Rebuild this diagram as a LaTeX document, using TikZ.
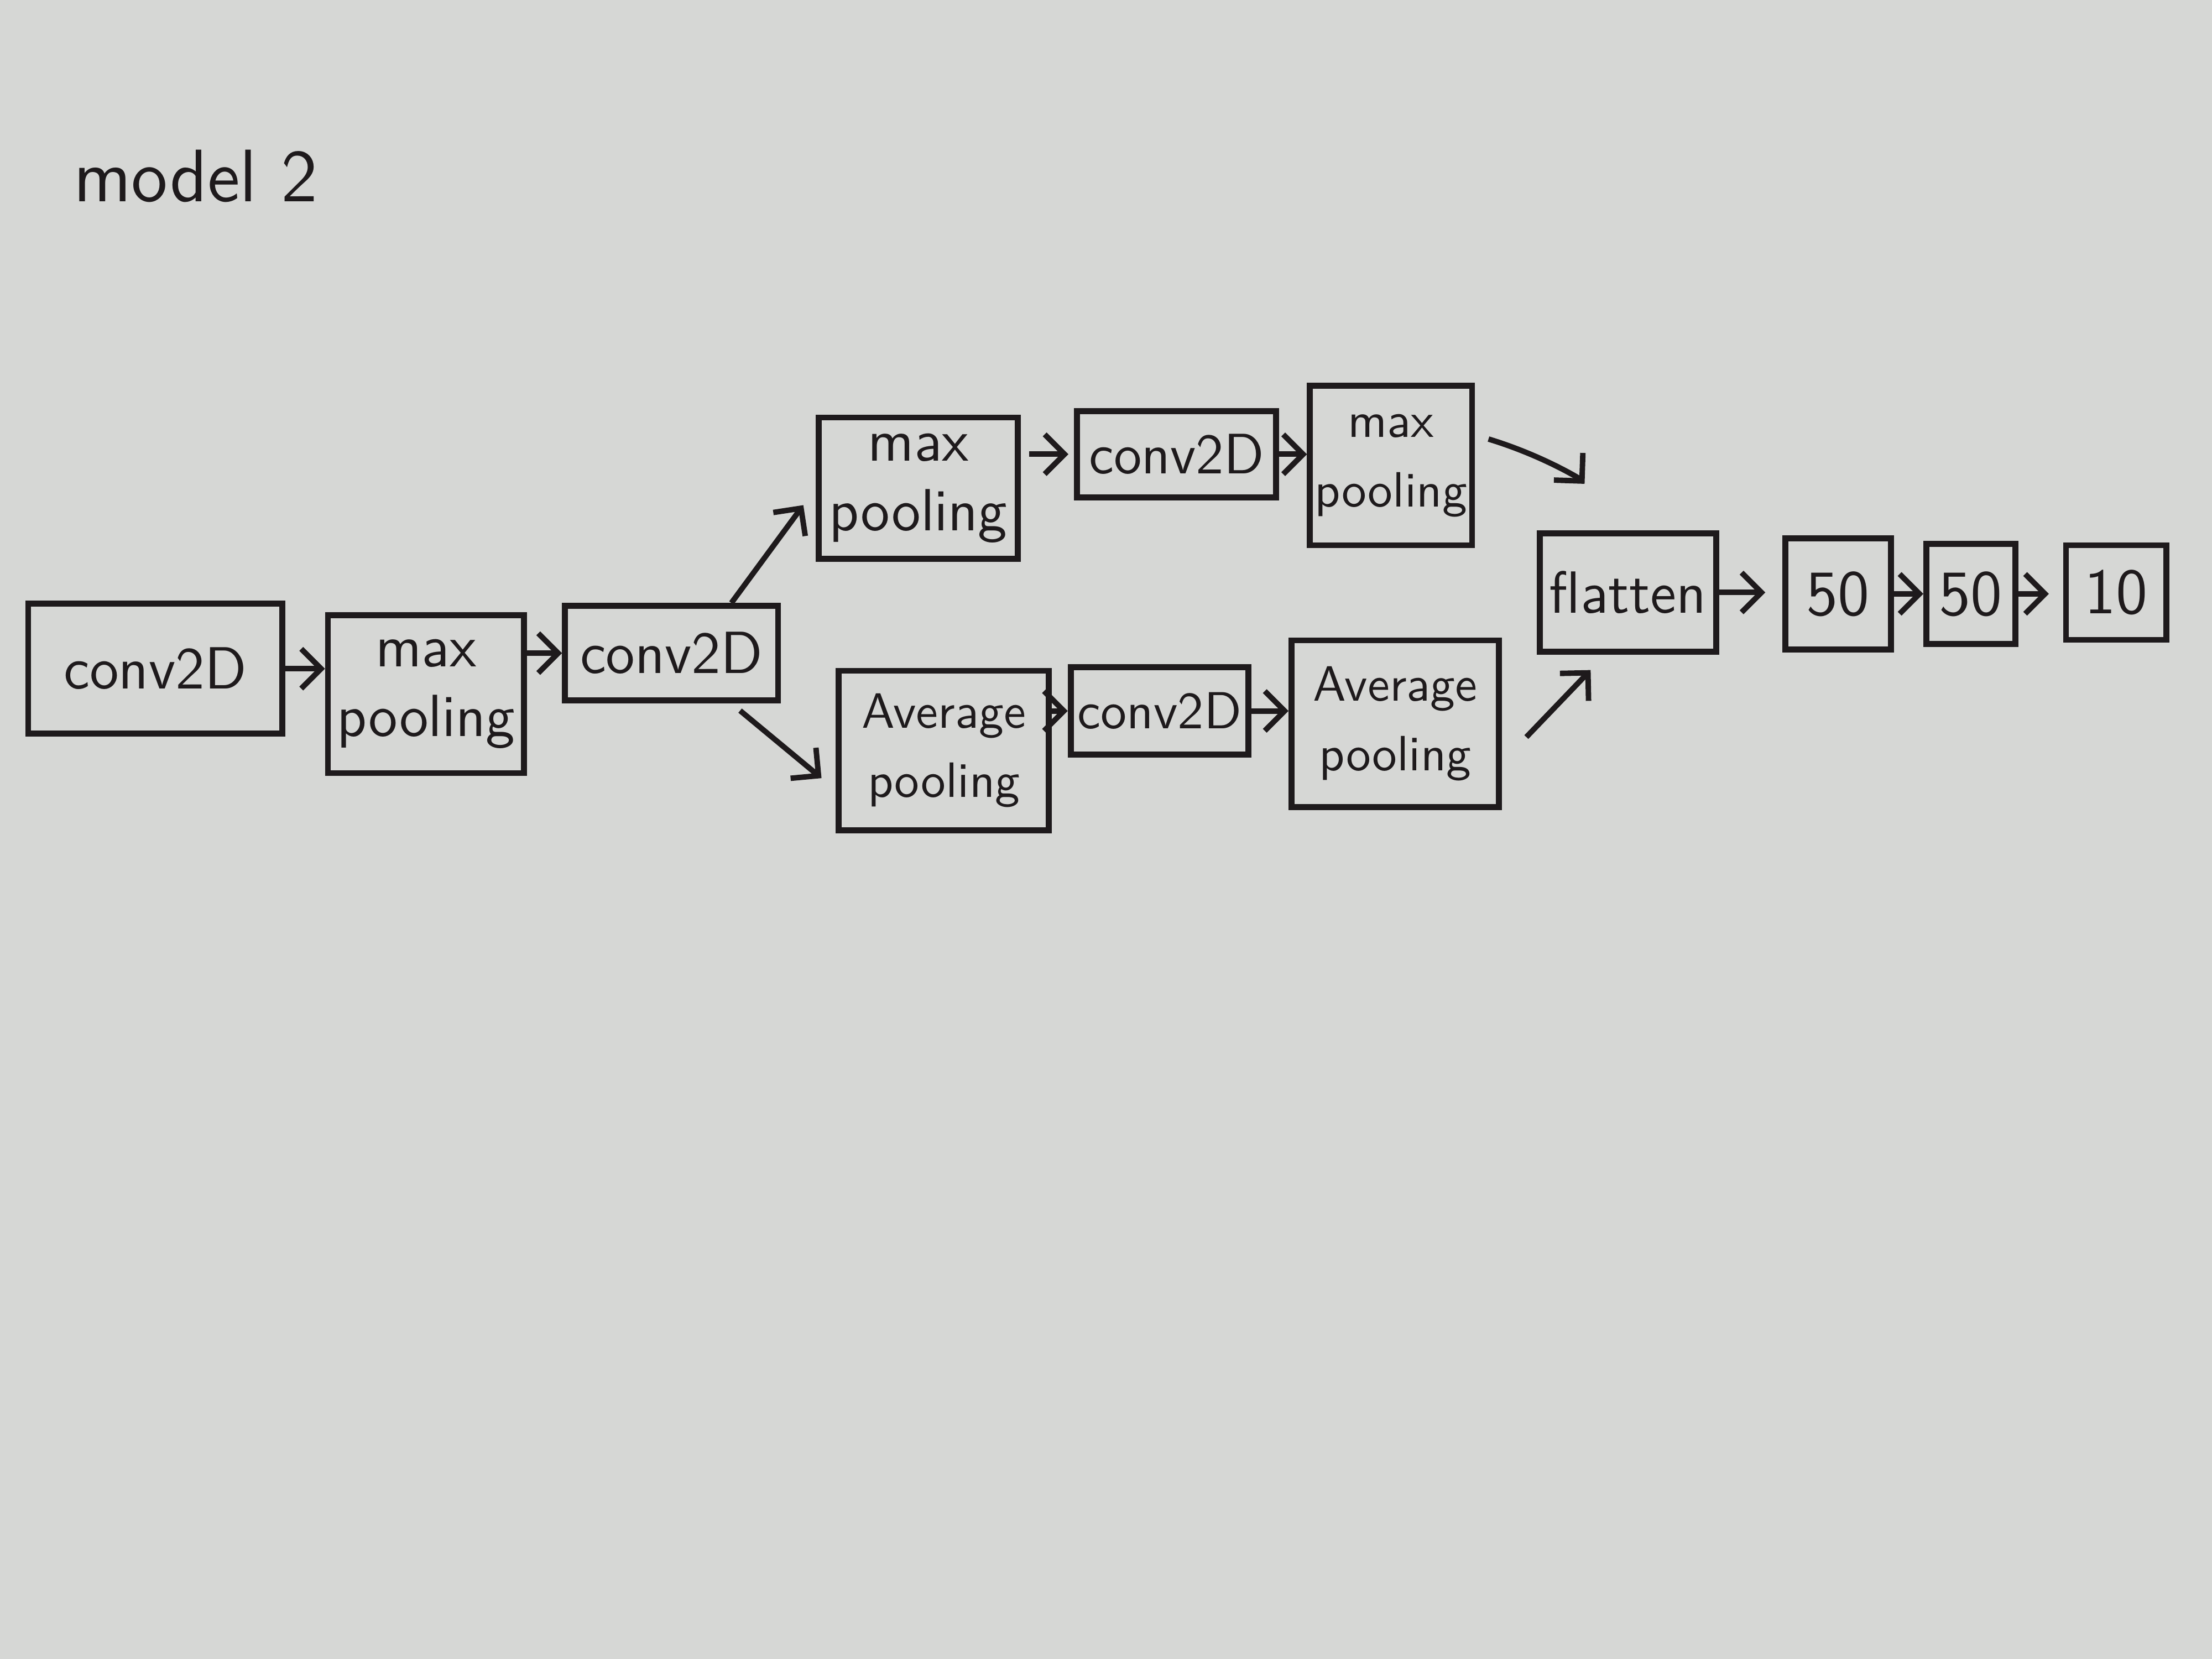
\documentclass[tikz,border=0pt]{standalone}
\usetikzlibrary{arrows.meta,calc}
\definecolor{paper}{RGB}{214,215,213}
\definecolor{ink}{RGB}{30,26,28}
\tikzset{
  box/.style={draw=ink, line width=1.2pt, inner sep=1pt, align=center,
    text=ink, font=\sffamily\fontsize{12}{14}\selectfont},
  smallbox/.style={box, font=\sffamily\fontsize{10.5}{13.5}\selectfont},
  avgbox/.style={box, font=\sffamily\fontsize{10}{14}\selectfont},
  numbox/.style={box, font=\sffamily\fontsize{13}{15}\selectfont},
  conn/.style={draw=ink, line width=1.1pt,
    -{Straight Barb[length=4pt,width=8pt,line width=1.1pt]}},
}
\begin{document}
\begin{tikzpicture}[x=0.01cm, y=-0.01cm]
  \fill[paper] (0,0) rectangle (1568,1176);
  \useasboundingbox (0,0) rectangle (1568,1176);

  \node[text=ink, font=\sffamily\fontsize{15}{17}\selectfont, anchor=west] (title) at (40,125) {model 2};

  \node[box, minimum width=1.80cm, minimum height=0.92cm] (c1) at (110,474) {conv2D};
  \node[box, minimum width=1.39cm, minimum height=1.12cm] (mp1) at (302,492) {max\\pooling};
  \node[box, minimum width=1.51cm, minimum height=0.67cm] (c2) at (476,463) {conv2D};
  \node[box, minimum width=1.41cm, minimum height=1.00cm] (mpT) at (651,346) {max\\pooling};
  \node[avgbox, minimum width=1.49cm, minimum height=1.13cm] (apB) at (669,532) {Average\\pooling};
  \node[box, font=\sffamily\fontsize{11.5}{14}\selectfont, minimum width=1.41cm, minimum height=0.61cm] (cT) at (834,322) {conv2D};
  \node[smallbox, minimum width=1.26cm, minimum height=0.62cm] (cB) at (822,504) {conv2D};
  \node[smallbox, font=\sffamily\fontsize{10}{14}\selectfont, minimum width=1.12cm, minimum height=1.13cm] (mpT2) at (986,330) {max\\pooling};
  \node[avgbox, minimum width=1.47cm, minimum height=1.18cm] (apB2) at (989,513) {Average\\pooling};
  \node[box, minimum width=1.25cm, minimum height=0.84cm] (fl) at (1154,420) {flatten};
  \node[numbox, minimum width=0.75cm, minimum height=0.79cm] (d1) at (1303,421) {50};
  \node[numbox, minimum width=0.63cm, minimum height=0.71cm] (d2) at (1397,421) {50};
  \node[numbox, minimum width=0.71cm, minimum height=0.67cm] (d3) at (1500,420) {10};

  \draw[conn] (c1.east) -- (c1.east -| mp1.west);
  \draw[conn] (mp1.east |- c2.west) -- (c2.west);
  \draw[conn, shorten >=0.15cm] (c2.40) -- (mpT.west);
  \draw[conn, shorten <=0.08cm, shorten >=0.13cm] (c2.-40) -- (apB.-160);
  \draw[conn, shorten <=0.06cm, shorten >=0.04cm] (mpT.east |- cT.west) -- (cT.west);
  \draw[conn] (cT.east) -- (cT.east -| mpT2.west);
  \draw[conn] (apB.east |- cB.west) -- (cB.west);
  \draw[conn] (cB.east) -- (cB.east -| apB2.west);
  \draw[conn, shorten <=0.1cm, shorten >=0.45cm] (mpT2.20) to[bend left=15] (fl.north);
  \draw[conn, shorten <=0.25cm, shorten >=0.15cm] (apB2.-20) -- (fl.-110);
  \draw[conn, shorten >=0.12cm] (fl.east) -- (fl.east -| d1.west);
  \draw[conn] (d1.east) -- (d1.east -| d2.west);
  \draw[conn, shorten >=0.1cm] (d2.east) -- (d2.east -| d3.west);
\end{tikzpicture}
\end{document}
